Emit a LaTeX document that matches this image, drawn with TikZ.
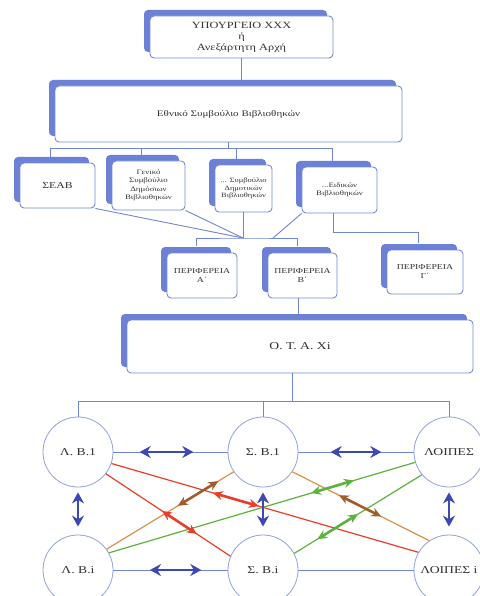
\documentclass[tikz,border=0pt]{standalone}
\usepackage{fontspec}
\setmainfont[FakeStretch=1.3]{Liberation Serif}
\usetikzlibrary{shadows,calc,arrows.meta}
\definecolor{boxedge}{RGB}{118,138,212}
\definecolor{shadowblue}{RGB}{108,128,214}
\definecolor{linkblue}{RGB}{112,132,216}
\definecolor{arrowblue}{RGB}{62,72,178}
\definecolor{txtgray}{RGB}{50,50,50}
\definecolor{redlink}{RGB}{232,62,40}
\definecolor{tanlink}{RGB}{214,146,72}
\definecolor{brownlink}{RGB}{160,92,44}
\definecolor{greenlink}{RGB}{92,178,62}
\begin{document}
\begin{tikzpicture}[x=1pt,y=-1pt,
    orgbox/.style={draw=boxedge,line width=0.9pt,fill=white,rounded corners=4pt,align=center,text=txtgray,inner sep=1pt,
      drop shadow={shadow xshift=-6pt,shadow yshift=6pt,fill=shadowblue,opacity=1}},
    lib/.style={circle,draw=boxedge!80,line width=0.8pt,fill=white,minimum size=70pt,inner sep=0pt,text=txtgray,
      font=\fontsize{10.5}{12}\selectfont},
    conn/.style={draw=linkblue,line width=0.9pt},
    thin/.style={line width=1.2pt},
    biarrow/.style={arrowblue,line width=2.6pt,{Stealth[length=11pt,width=12pt]}-{Stealth[length=11pt,width=12pt]}},
    duo/.style={line width=2.6pt,{Stealth[length=10pt,width=9pt]}-{Stealth[length=10pt,width=9pt]}}]
    \fill[white] (0,0) rectangle (479,596);
    \useasboundingbox (0,0) rectangle (479,596);

    % boxes
    \node[orgbox,minimum width=183pt,minimum height=42pt,font=\fontsize{9.5}{11}\selectfont] (min) at (241.5,37) {ΥΠΟΥΡΓΕΙΟ XXX\\ή\\Ανεξάρτητη Αρχή};
    \node[orgbox,minimum width=347pt,minimum height=56pt,font=\fontsize{8.5}{10}\selectfont] (esv) at (228.5,114) {Εθνικό Συμβούλιο Βιβλιοθηκών};
    \node[orgbox,minimum width=75pt,minimum height=45pt,font=\fontsize{9}{10}\selectfont] (seab) at (57.5,185.5) {ΣΕΑΒ};
    \node[orgbox,minimum width=73pt,minimum height=49pt,font=\fontsize{6.8}{8.5}\selectfont] (gen) at (148.5,185.5) {Γενικό\\Συμβούλιο\\Δημόσιων\\Βιβλιοθηκών};
    \node[orgbox,minimum width=57pt,minimum height=47pt,font=\fontsize{6.5}{7.5}\selectfont] (dim) at (243.5,188.5) {... Συμβούλιο\\Δημοτικών\\Βιβλιοθηκών};
    \node[orgbox,minimum width=75pt,minimum height=46pt,font=\fontsize{6.8}{8}\selectfont] (eid) at (339.5,190) {...Ειδικών\\Βιβλιοθηκών};
    \node[orgbox,minimum width=70pt,minimum height=45pt,font=\fontsize{7.5}{9}\selectfont] (perA) at (202,275.5) {ΠΕΡΙΦΕΡΕΙΑ\\Α΄};
    \node[orgbox,minimum width=69pt,minimum height=45pt,font=\fontsize{7.5}{9}\selectfont] (perB) at (302.5,275.5) {ΠΕΡΙΦΕΡΕΙΑ\\Β΄};
    \node[orgbox,minimum width=76pt,minimum height=44pt,font=\fontsize{7.5}{9}\selectfont] (perG) at (425,272) {ΠΕΡΙΦΕΡΕΙΑ\\Γ΄};
    \node[orgbox,minimum width=346pt,minimum height=53pt,font=\fontsize{10.5}{12}\selectfont] (ota) at (300,346.5) {Ο. Τ. Α. Χi};

    % libraries
    \node[lib] (lb1) at (78,452) {Λ. Β.1};
    \node[lib] (sb1) at (263,452) {Σ. Β.1};
    \node[lib] (lo1) at (449,452) {ΛΟΙΠΕΣ};
    \node[lib] (lbi) at (78,570) {Λ. Β.i};
    \node[lib] (sbi) at (263,570) {Σ. Β.i};
    \node[lib] (loi) at (449,570) {ΛΟΙΠΕΣ i};

    % tree
    \draw[conn] (min.south) -- ($(min.south |- esv.north)+(0,-6)$);
    \foreach \n in {seab,gen,dim,eid}
        \draw[conn] (esv.south) -- ++(0,6) -| ($(\n.north)+(-7,-6)$);
    \coordinate (j2) at (243,238);
    \draw[conn] (seab.south east) -- (j2);
    \draw[conn] (gen.south east) -- (j2);
    \draw[conn] (dim.south) -- (dim.south |- j2);
    \draw[conn] (eid.south west) -- ($(j2)+(30,0)$);
    \draw[conn] ($(perA.north)+(-6,-7)$) |- (j2) -| ($(perB.north)+(-5,-7)$);
    \draw[conn] ($(eid.south)+(-6,0)$) -- ++(0,19) -| ($(perG.north)+(-7,-7)$);
    \draw[conn] ($(perB.south)+(-4,0)$) -- ++(0,16);
    \foreach \c in {lb1,sb1,lo1}
        \draw[conn] ($(ota.south)+(-8,0)$) -- ++(0,28) -| (\c.north);

    % links
    \draw[conn] (lb1) -- (sb1);
    \draw[conn] (sb1) -- (lo1);
    \draw[conn] (lbi) -- (sbi);
    \draw[conn] (sbi) -- (loi);

    \draw[thin,redlink] (lb1.-19) -- coordinate[pos=0.33] (r1a) coordinate[pos=0.48] (r1b) (loi.150);
    \draw[thin,redlink] (lb1.-38) -- coordinate[pos=0.45] (r2a) coordinate[pos=0.73] (r2b) (sbi.157);
    \draw[thin,tanlink] (lbi.36) -- coordinate[pos=0.56] (b1a) coordinate[pos=0.88] (b1b) (sb1.-146);
    \draw[thin,tanlink] (sb1.-34) -- coordinate[pos=0.34] (b2a) coordinate[pos=0.65] (b2b) (loi.124);
    \draw[thin,greenlink] (lbi.29) -- coordinate[pos=0.66] (g1a) coordinate[pos=0.80] (g1b) (lo1.-163);
    \draw[thin,greenlink] (sbi.28) -- coordinate[pos=0.18] (g2a) coordinate[pos=0.50] (g2b) (lo1.-140);
    \draw[duo,redlink] (r1a) -- (r1b);
    \draw[duo,redlink] (r2a) -- (r2b);
    \draw[duo,brownlink] (b1a) -- (b1b);
    \draw[duo,brownlink] (b2a) -- (b2b);
    \draw[duo,greenlink] (g1a) -- (g1b);
    \draw[duo,greenlink] (g2a) -- (g2b);

    \draw[biarrow] ($(lb1.east)!0.23!(sb1.west)$) -- ($(lb1.east)!0.7!(sb1.west)$);
    \draw[biarrow] ($(sb1.east)!0.28!(lo1.west)$) -- ($(sb1.east)!0.72!(lo1.west)$);
    \draw[biarrow] ($(lbi.east)!0.32!(sbi.west)$) -- ($(lbi.east)!0.77!(sbi.west)$);
    \foreach \a/\b in {lb1/lbi,sb1/sbi,lo1/loi}
        \draw[biarrow,shorten <=5pt,shorten >=8pt] (\a.south) -- (\b.north);
\end{tikzpicture}
\end{document}
